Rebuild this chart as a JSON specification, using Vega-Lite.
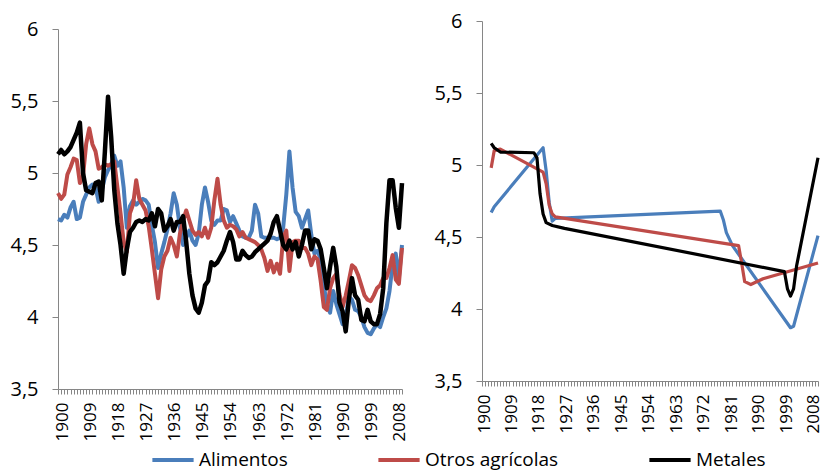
{
"$schema": "https://vega.github.io/schema/vega-lite/v6.json",
"padding": {"left": 9, "top": 11, "right": 2, "bottom": 2},
"config": {
  "view": {"stroke": null},
  "font": "Open Sans",
  "axis": {"domainColor": "#868686", "tickColor": "#868686", "labelColor": "#000000", "labelFont": "Open Sans", "grid": false}
},
"datasets": {
"left": [
{"year":1900,"series":"Alimentos","value":4.68},{"year":1901,"series":"Alimentos","value":4.67},{"year":1902,"series":"Alimentos","value":4.71},{"year":1903,"series":"Alimentos","value":4.69},{"year":1904,"series":"Alimentos","value":4.76},{"year":1905,"series":"Alimentos","value":4.80},{"year":1906,"series":"Alimentos","value":4.68},{"year":1907,"series":"Alimentos","value":4.69},{"year":1908,"series":"Alimentos","value":4.80},{"year":1909,"series":"Alimentos","value":4.85},
{"year":1910,"series":"Alimentos","value":4.90},{"year":1911,"series":"Alimentos","value":4.92},{"year":1912,"series":"Alimentos","value":4.90},{"year":1913,"series":"Alimentos","value":4.80},{"year":1914,"series":"Alimentos","value":4.88},{"year":1915,"series":"Alimentos","value":4.97},{"year":1916,"series":"Alimentos","value":5.02},{"year":1917,"series":"Alimentos","value":5.06},{"year":1918,"series":"Alimentos","value":5.12},{"year":1919,"series":"Alimentos","value":5.05},
{"year":1920,"series":"Alimentos","value":5.08},{"year":1921,"series":"Alimentos","value":4.90},{"year":1922,"series":"Alimentos","value":4.62},{"year":1923,"series":"Alimentos","value":4.77},{"year":1924,"series":"Alimentos","value":4.81},{"year":1925,"series":"Alimentos","value":4.78},{"year":1926,"series":"Alimentos","value":4.80},{"year":1927,"series":"Alimentos","value":4.82},{"year":1928,"series":"Alimentos","value":4.81},{"year":1929,"series":"Alimentos","value":4.78},
{"year":1930,"series":"Alimentos","value":4.64},{"year":1931,"series":"Alimentos","value":4.52},{"year":1932,"series":"Alimentos","value":4.34},{"year":1933,"series":"Alimentos","value":4.44},{"year":1934,"series":"Alimentos","value":4.52},{"year":1935,"series":"Alimentos","value":4.61},{"year":1936,"series":"Alimentos","value":4.72},{"year":1937,"series":"Alimentos","value":4.86},{"year":1938,"series":"Alimentos","value":4.78},{"year":1939,"series":"Alimentos","value":4.62},
{"year":1940,"series":"Alimentos","value":4.50},{"year":1941,"series":"Alimentos","value":4.55},{"year":1942,"series":"Alimentos","value":4.60},{"year":1943,"series":"Alimentos","value":4.53},{"year":1944,"series":"Alimentos","value":4.50},{"year":1945,"series":"Alimentos","value":4.58},{"year":1946,"series":"Alimentos","value":4.78},{"year":1947,"series":"Alimentos","value":4.90},{"year":1948,"series":"Alimentos","value":4.80},{"year":1949,"series":"Alimentos","value":4.67},
{"year":1950,"series":"Alimentos","value":4.64},{"year":1951,"series":"Alimentos","value":4.67},{"year":1952,"series":"Alimentos","value":4.67},{"year":1953,"series":"Alimentos","value":4.75},{"year":1954,"series":"Alimentos","value":4.74},{"year":1955,"series":"Alimentos","value":4.66},{"year":1956,"series":"Alimentos","value":4.70},{"year":1957,"series":"Alimentos","value":4.65},{"year":1958,"series":"Alimentos","value":4.60},{"year":1959,"series":"Alimentos","value":4.56},
{"year":1960,"series":"Alimentos","value":4.55},{"year":1961,"series":"Alimentos","value":4.55},{"year":1962,"series":"Alimentos","value":4.60},{"year":1963,"series":"Alimentos","value":4.78},{"year":1964,"series":"Alimentos","value":4.72},{"year":1965,"series":"Alimentos","value":4.56},{"year":1966,"series":"Alimentos","value":4.55},{"year":1967,"series":"Alimentos","value":4.55},{"year":1968,"series":"Alimentos","value":4.55},{"year":1969,"series":"Alimentos","value":4.55},
{"year":1970,"series":"Alimentos","value":4.54},{"year":1971,"series":"Alimentos","value":4.55},{"year":1972,"series":"Alimentos","value":4.62},{"year":1973,"series":"Alimentos","value":4.85},{"year":1974,"series":"Alimentos","value":5.15},{"year":1975,"series":"Alimentos","value":4.90},{"year":1976,"series":"Alimentos","value":4.73},{"year":1977,"series":"Alimentos","value":4.70},{"year":1978,"series":"Alimentos","value":4.62},{"year":1979,"series":"Alimentos","value":4.68},
{"year":1980,"series":"Alimentos","value":4.74},{"year":1981,"series":"Alimentos","value":4.57},{"year":1982,"series":"Alimentos","value":4.44},{"year":1983,"series":"Alimentos","value":4.46},{"year":1984,"series":"Alimentos","value":4.40},{"year":1985,"series":"Alimentos","value":4.22},{"year":1986,"series":"Alimentos","value":4.08},{"year":1987,"series":"Alimentos","value":4.03},{"year":1988,"series":"Alimentos","value":4.18},{"year":1989,"series":"Alimentos","value":4.09},
{"year":1990,"series":"Alimentos","value":4.02},{"year":1991,"series":"Alimentos","value":3.95},{"year":1992,"series":"Alimentos","value":3.99},{"year":1993,"series":"Alimentos","value":4.14},{"year":1994,"series":"Alimentos","value":4.12},{"year":1995,"series":"Alimentos","value":4.05},{"year":1996,"series":"Alimentos","value":4.04},{"year":1997,"series":"Alimentos","value":4.00},{"year":1998,"series":"Alimentos","value":3.93},{"year":1999,"series":"Alimentos","value":3.89},
{"year":2000,"series":"Alimentos","value":3.88},{"year":2001,"series":"Alimentos","value":3.92},{"year":2002,"series":"Alimentos","value":3.95},{"year":2003,"series":"Alimentos","value":3.93},{"year":2004,"series":"Alimentos","value":4.00},{"year":2005,"series":"Alimentos","value":4.06},{"year":2006,"series":"Alimentos","value":4.18},{"year":2007,"series":"Alimentos","value":4.37},{"year":2008,"series":"Alimentos","value":4.44},{"year":2009,"series":"Alimentos","value":4.27},{"year":2010,"series":"Alimentos","value":4.50},
{"year":1900,"series":"Otros agrícolas","value":4.86},{"year":1901,"series":"Otros agrícolas","value":4.82},{"year":1902,"series":"Otros agrícolas","value":4.85},{"year":1903,"series":"Otros agrícolas","value":4.99},{"year":1904,"series":"Otros agrícolas","value":5.04},{"year":1905,"series":"Otros agrícolas","value":5.10},{"year":1906,"series":"Otros agrícolas","value":5.09},{"year":1907,"series":"Otros agrícolas","value":4.93},{"year":1908,"series":"Otros agrícolas","value":4.98},{"year":1909,"series":"Otros agrícolas","value":5.20},
{"year":1910,"series":"Otros agrícolas","value":5.31},{"year":1911,"series":"Otros agrícolas","value":5.20},{"year":1912,"series":"Otros agrícolas","value":5.15},{"year":1913,"series":"Otros agrícolas","value":5.03},{"year":1914,"series":"Otros agrícolas","value":5.04},{"year":1915,"series":"Otros agrícolas","value":5.06},{"year":1916,"series":"Otros agrícolas","value":5.05},{"year":1917,"series":"Otros agrícolas","value":5.06},{"year":1918,"series":"Otros agrícolas","value":5.08},{"year":1919,"series":"Otros agrícolas","value":4.90},
{"year":1920,"series":"Otros agrícolas","value":4.72},{"year":1921,"series":"Otros agrícolas","value":4.52},{"year":1922,"series":"Otros agrícolas","value":4.45},{"year":1923,"series":"Otros agrícolas","value":4.72},{"year":1924,"series":"Otros agrícolas","value":4.78},{"year":1925,"series":"Otros agrícolas","value":4.95},{"year":1926,"series":"Otros agrícolas","value":4.82},{"year":1927,"series":"Otros agrícolas","value":4.78},{"year":1928,"series":"Otros agrícolas","value":4.74},{"year":1929,"series":"Otros agrícolas","value":4.63},
{"year":1930,"series":"Otros agrícolas","value":4.47},{"year":1931,"series":"Otros agrícolas","value":4.30},{"year":1932,"series":"Otros agrícolas","value":4.13},{"year":1933,"series":"Otros agrícolas","value":4.33},{"year":1934,"series":"Otros agrícolas","value":4.42},{"year":1935,"series":"Otros agrícolas","value":4.46},{"year":1936,"series":"Otros agrícolas","value":4.55},{"year":1937,"series":"Otros agrícolas","value":4.50},{"year":1938,"series":"Otros agrícolas","value":4.42},{"year":1939,"series":"Otros agrícolas","value":4.58},
{"year":1940,"series":"Otros agrícolas","value":4.67},{"year":1941,"series":"Otros agrícolas","value":4.74},{"year":1942,"series":"Otros agrícolas","value":4.67},{"year":1943,"series":"Otros agrícolas","value":4.60},{"year":1944,"series":"Otros agrícolas","value":4.57},{"year":1945,"series":"Otros agrícolas","value":4.59},{"year":1946,"series":"Otros agrícolas","value":4.56},{"year":1947,"series":"Otros agrícolas","value":4.62},{"year":1948,"series":"Otros agrícolas","value":4.55},{"year":1949,"series":"Otros agrícolas","value":4.62},
{"year":1950,"series":"Otros agrícolas","value":4.81},{"year":1951,"series":"Otros agrícolas","value":4.96},{"year":1952,"series":"Otros agrícolas","value":4.78},{"year":1953,"series":"Otros agrícolas","value":4.67},{"year":1954,"series":"Otros agrícolas","value":4.62},{"year":1955,"series":"Otros agrícolas","value":4.64},{"year":1956,"series":"Otros agrícolas","value":4.63},{"year":1957,"series":"Otros agrícolas","value":4.61},{"year":1958,"series":"Otros agrícolas","value":4.56},{"year":1959,"series":"Otros agrícolas","value":4.59},
{"year":1960,"series":"Otros agrícolas","value":4.55},{"year":1961,"series":"Otros agrícolas","value":4.54},{"year":1962,"series":"Otros agrícolas","value":4.53},{"year":1963,"series":"Otros agrícolas","value":4.52},{"year":1964,"series":"Otros agrícolas","value":4.50},{"year":1965,"series":"Otros agrícolas","value":4.47},{"year":1966,"series":"Otros agrícolas","value":4.41},{"year":1967,"series":"Otros agrícolas","value":4.32},{"year":1968,"series":"Otros agrícolas","value":4.39},{"year":1969,"series":"Otros agrícolas","value":4.31},
{"year":1970,"series":"Otros agrícolas","value":4.37},{"year":1971,"series":"Otros agrícolas","value":4.30},{"year":1972,"series":"Otros agrícolas","value":4.55},{"year":1973,"series":"Otros agrícolas","value":4.60},{"year":1974,"series":"Otros agrícolas","value":4.32},{"year":1975,"series":"Otros agrícolas","value":4.52},{"year":1976,"series":"Otros agrícolas","value":4.53},{"year":1977,"series":"Otros agrícolas","value":4.53},{"year":1978,"series":"Otros agrícolas","value":4.48},{"year":1979,"series":"Otros agrícolas","value":4.48},
{"year":1980,"series":"Otros agrícolas","value":4.44},{"year":1981,"series":"Otros agrícolas","value":4.36},{"year":1982,"series":"Otros agrícolas","value":4.42},{"year":1983,"series":"Otros agrícolas","value":4.40},{"year":1984,"series":"Otros agrícolas","value":4.25},{"year":1985,"series":"Otros agrícolas","value":4.07},{"year":1986,"series":"Otros agrícolas","value":4.05},{"year":1987,"series":"Otros agrícolas","value":4.20},{"year":1988,"series":"Otros agrícolas","value":4.27},{"year":1989,"series":"Otros agrícolas","value":4.30},
{"year":1990,"series":"Otros agrícolas","value":4.16},{"year":1991,"series":"Otros agrícolas","value":4.07},{"year":1992,"series":"Otros agrícolas","value":4.15},{"year":1993,"series":"Otros agrícolas","value":4.25},{"year":1994,"series":"Otros agrícolas","value":4.36},{"year":1995,"series":"Otros agrícolas","value":4.34},{"year":1996,"series":"Otros agrícolas","value":4.29},{"year":1997,"series":"Otros agrícolas","value":4.22},{"year":1998,"series":"Otros agrícolas","value":4.15},{"year":1999,"series":"Otros agrícolas","value":4.12},
{"year":2000,"series":"Otros agrícolas","value":4.11},{"year":2001,"series":"Otros agrícolas","value":4.15},{"year":2002,"series":"Otros agrícolas","value":4.20},{"year":2003,"series":"Otros agrícolas","value":4.22},{"year":2004,"series":"Otros agrícolas","value":4.27},{"year":2005,"series":"Otros agrícolas","value":4.27},{"year":2006,"series":"Otros agrícolas","value":4.34},{"year":2007,"series":"Otros agrícolas","value":4.43},{"year":2008,"series":"Otros agrícolas","value":4.26},{"year":2009,"series":"Otros agrícolas","value":4.23},{"year":2010,"series":"Otros agrícolas","value":4.48},
{"year":1900,"series":"Metales","value":5.13},{"year":1901,"series":"Metales","value":5.16},{"year":1902,"series":"Metales","value":5.13},{"year":1903,"series":"Metales","value":5.15},{"year":1904,"series":"Metales","value":5.18},{"year":1905,"series":"Metales","value":5.23},{"year":1906,"series":"Metales","value":5.28},{"year":1907,"series":"Metales","value":5.35},{"year":1908,"series":"Metales","value":5.00},{"year":1909,"series":"Metales","value":4.88},
{"year":1910,"series":"Metales","value":4.87},{"year":1911,"series":"Metales","value":4.86},{"year":1912,"series":"Metales","value":4.93},{"year":1913,"series":"Metales","value":4.94},{"year":1914,"series":"Metales","value":4.81},{"year":1915,"series":"Metales","value":5.15},{"year":1916,"series":"Metales","value":5.53},{"year":1917,"series":"Metales","value":5.25},{"year":1918,"series":"Metales","value":4.88},{"year":1919,"series":"Metales","value":4.65},
{"year":1920,"series":"Metales","value":4.50},{"year":1921,"series":"Metales","value":4.30},{"year":1922,"series":"Metales","value":4.47},{"year":1923,"series":"Metales","value":4.59},{"year":1924,"series":"Metales","value":4.62},{"year":1925,"series":"Metales","value":4.66},{"year":1926,"series":"Metales","value":4.67},{"year":1927,"series":"Metales","value":4.66},{"year":1928,"series":"Metales","value":4.68},{"year":1929,"series":"Metales","value":4.67},
{"year":1930,"series":"Metales","value":4.72},{"year":1931,"series":"Metales","value":4.63},{"year":1932,"series":"Metales","value":4.75},{"year":1933,"series":"Metales","value":4.72},{"year":1934,"series":"Metales","value":4.60},{"year":1935,"series":"Metales","value":4.63},{"year":1936,"series":"Metales","value":4.68},{"year":1937,"series":"Metales","value":4.60},{"year":1938,"series":"Metales","value":4.66},{"year":1939,"series":"Metales","value":4.66},
{"year":1940,"series":"Metales","value":4.70},{"year":1941,"series":"Metales","value":4.52},{"year":1942,"series":"Metales","value":4.30},{"year":1943,"series":"Metales","value":4.15},{"year":1944,"series":"Metales","value":4.06},{"year":1945,"series":"Metales","value":4.03},{"year":1946,"series":"Metales","value":4.10},{"year":1947,"series":"Metales","value":4.22},{"year":1948,"series":"Metales","value":4.25},{"year":1949,"series":"Metales","value":4.38},
{"year":1950,"series":"Metales","value":4.36},{"year":1951,"series":"Metales","value":4.38},{"year":1952,"series":"Metales","value":4.42},{"year":1953,"series":"Metales","value":4.46},{"year":1954,"series":"Metales","value":4.53},{"year":1955,"series":"Metales","value":4.59},{"year":1956,"series":"Metales","value":4.52},{"year":1957,"series":"Metales","value":4.40},{"year":1958,"series":"Metales","value":4.40},{"year":1959,"series":"Metales","value":4.46},
{"year":1960,"series":"Metales","value":4.43},{"year":1961,"series":"Metales","value":4.41},{"year":1962,"series":"Metales","value":4.42},{"year":1963,"series":"Metales","value":4.45},{"year":1964,"series":"Metales","value":4.47},{"year":1965,"series":"Metales","value":4.49},{"year":1966,"series":"Metales","value":4.51},{"year":1967,"series":"Metales","value":4.53},{"year":1968,"series":"Metales","value":4.58},{"year":1969,"series":"Metales","value":4.66},
{"year":1970,"series":"Metales","value":4.70},{"year":1971,"series":"Metales","value":4.60},{"year":1972,"series":"Metales","value":4.50},{"year":1973,"series":"Metales","value":4.47},{"year":1974,"series":"Metales","value":4.53},{"year":1975,"series":"Metales","value":4.47},{"year":1976,"series":"Metales","value":4.52},{"year":1977,"series":"Metales","value":4.42},{"year":1978,"series":"Metales","value":4.50},{"year":1979,"series":"Metales","value":4.60},
{"year":1980,"series":"Metales","value":4.60},{"year":1981,"series":"Metales","value":4.47},{"year":1982,"series":"Metales","value":4.54},{"year":1983,"series":"Metales","value":4.53},{"year":1984,"series":"Metales","value":4.47},{"year":1985,"series":"Metales","value":4.34},{"year":1986,"series":"Metales","value":4.20},{"year":1987,"series":"Metales","value":4.35},{"year":1988,"series":"Metales","value":4.48},{"year":1989,"series":"Metales","value":4.35},
{"year":1990,"series":"Metales","value":4.10},{"year":1991,"series":"Metales","value":4.04},{"year":1992,"series":"Metales","value":3.90},{"year":1993,"series":"Metales","value":4.12},{"year":1994,"series":"Metales","value":4.27},{"year":1995,"series":"Metales","value":4.15},{"year":1996,"series":"Metales","value":4.12},{"year":1997,"series":"Metales","value":3.98},{"year":1998,"series":"Metales","value":3.97},{"year":1999,"series":"Metales","value":4.05},
{"year":2000,"series":"Metales","value":3.97},{"year":2001,"series":"Metales","value":3.95},{"year":2002,"series":"Metales","value":3.95},{"year":2003,"series":"Metales","value":4.02},{"year":2004,"series":"Metales","value":4.20},{"year":2005,"series":"Metales","value":4.65},{"year":2006,"series":"Metales","value":4.95},{"year":2007,"series":"Metales","value":4.95},{"year":2008,"series":"Metales","value":4.76},{"year":2009,"series":"Metales","value":4.62},{"year":2010,"series":"Metales","value":4.93}
],
"right": [
{"year":1903,"series":"Alimentos","value":4.67},{"year":1904,"series":"Alimentos","value":4.71},{"year":1920,"series":"Alimentos","value":5.12},{"year":1921,"series":"Alimentos","value":4.96},{"year":1922,"series":"Alimentos","value":4.74},{"year":1923,"series":"Alimentos","value":4.61},{"year":1924,"series":"Alimentos","value":4.63},{"year":1978,"series":"Alimentos","value":4.68},{"year":1979,"series":"Alimentos","value":4.62},{"year":1980,"series":"Alimentos","value":4.53},{"year":1982,"series":"Alimentos","value":4.44},{"year":2001,"series":"Alimentos","value":3.87},{"year":2002,"series":"Alimentos","value":3.88},{"year":2010,"series":"Alimentos","value":4.51},
{"year":1903,"series":"Otros agrícolas","value":4.98},{"year":1904,"series":"Otros agrícolas","value":5.10},{"year":1906,"series":"Otros agrícolas","value":5.11},{"year":1920,"series":"Otros agrícolas","value":4.95},{"year":1921,"series":"Otros agrícolas","value":4.87},{"year":1922,"series":"Otros agrícolas","value":4.72},{"year":1923,"series":"Otros agrícolas","value":4.66},{"year":1924,"series":"Otros agrícolas","value":4.64},{"year":1984,"series":"Otros agrícolas","value":4.44},{"year":1985,"series":"Otros agrícolas","value":4.32},{"year":1986,"series":"Otros agrícolas","value":4.19},{"year":1988,"series":"Otros agrícolas","value":4.17},{"year":1992,"series":"Otros agrícolas","value":4.21},{"year":2010,"series":"Otros agrícolas","value":4.32},
{"year":1903,"series":"Metales","value":5.15},{"year":1904,"series":"Metales","value":5.12},{"year":1906,"series":"Metales","value":5.09},{"year":1917,"series":"Metales","value":5.085},{"year":1918,"series":"Metales","value":5.05},{"year":1919,"series":"Metales","value":4.80},{"year":1920,"series":"Metales","value":4.66},{"year":1921,"series":"Metales","value":4.60},{"year":1923,"series":"Metales","value":4.58},{"year":1927,"series":"Metales","value":4.56},{"year":1999,"series":"Metales","value":4.26},{"year":2000,"series":"Metales","value":4.14},{"year":2001,"series":"Metales","value":4.09},{"year":2002,"series":"Metales","value":4.14},{"year":2003,"series":"Metales","value":4.30},{"year":2010,"series":"Metales","value":5.05}
],
"empty": []
},
"spacing": 19,
"hconcat": [
 {"spacing": 7, "bounds": "flush", "vconcat": [
 {
  "width": 344, "height": 1,
  "data": {"name": "empty"},
  "mark": {"type": "point", "opacity": 0},
  "encoding": {}
 },
 {
  "width": 344, "height": 360,
  "data": {"name": "left"},
  "encoding": {
   "x": {"field": "year", "type": "quantitative", "scale": {"domain": [1900, 2010], "nice": false, "zero": false},
     "axis": {"title": null, "tickSize": 5, "labelAngle": 270, "labelPadding": 8, "labelFontSize": 17, "labelOverlap": false, "labelBound": false, "labelFlush": false, "labelOffset": 4,
       "values": [1900,1901,1902,1903,1904,1905,1906,1907,1908,1909,1910,1911,1912,1913,1914,1915,1916,1917,1918,1919,1920,1921,1922,1923,1924,1925,1926,1927,1928,1929,1930,1931,1932,1933,1934,1935,1936,1937,1938,1939,1940,1941,1942,1943,1944,1945,1946,1947,1948,1949,1950,1951,1952,1953,1954,1955,1956,1957,1958,1959,1960,1961,1962,1963,1964,1965,1966,1967,1968,1969,1970,1971,1972,1973,1974,1975,1976,1977,1978,1979,1980,1981,1982,1983,1984,1985,1986,1987,1988,1989,1990,1991,1992,1993,1994,1995,1996,1997,1998,1999,2000,2001,2002,2003,2004,2005,2006,2007,2008,2009,2010],
       "labelExpr": "(datum.value - 1900) % 9 === 0 ? '' + datum.value : ''"}},
   "y": {"field": "value", "type": "quantitative", "scale": {"domain": [3.5, 6], "nice": false, "zero": false},
     "axis": {"title": null, "tickSize": 6, "labelPadding": 14, "labelFontSize": 20, "values": [3.5, 4, 4.5, 5, 5.5, 6], "labelExpr": "replace('' + datum.value, '.', ',')"}},
   "color": {"field": "series", "type": "nominal",
     "scale": {"domain": ["Alimentos", "Otros agrícolas", "Metales"], "range": ["#4A7EBB", "#BE4B48", "#000000"]},
     "legend": {"title": null, "orient": "none", "legendX": 92, "legendY": 416, "direction": "horizontal", "symbolType": "stroke", "symbolSize": 1700, "symbolStrokeWidth": 4, "labelFontSize": 19, "labelFont": "Open Sans", "labelColor": "#000000", "labelLimit": 300, "columnPadding": 82, "labelOffset": 3, "padding": 0}}
  },
  "layer": [
   {"transform": [{"filter": "datum.series === 'Alimentos'"}], "mark": {"type": "line", "strokeWidth": 4, "strokeJoin": "round"}},
   {"transform": [{"filter": "datum.series === 'Otros agrícolas'"}], "mark": {"type": "line", "strokeWidth": 4, "strokeJoin": "round"}},
   {"transform": [{"filter": "datum.series === 'Metales'"}], "mark": {"type": "line", "strokeWidth": 4.5, "strokeJoin": "round"}}
  ]
 }]},
 {
  "width": 336, "height": 360,
  "data": {"name": "right"},
  "encoding": {
   "x": {"field": "year", "type": "quantitative", "scale": {"domain": [1900, 2010], "nice": false, "zero": false},
     "axis": {"title": null, "tickSize": 5, "labelAngle": 270, "labelPadding": 8, "labelFontSize": 17, "labelOverlap": false, "labelBound": false, "labelFlush": false, "labelOffset": 2,
       "values": [1900,1901,1902,1903,1904,1905,1906,1907,1908,1909,1910,1911,1912,1913,1914,1915,1916,1917,1918,1919,1920,1921,1922,1923,1924,1925,1926,1927,1928,1929,1930,1931,1932,1933,1934,1935,1936,1937,1938,1939,1940,1941,1942,1943,1944,1945,1946,1947,1948,1949,1950,1951,1952,1953,1954,1955,1956,1957,1958,1959,1960,1961,1962,1963,1964,1965,1966,1967,1968,1969,1970,1971,1972,1973,1974,1975,1976,1977,1978,1979,1980,1981,1982,1983,1984,1985,1986,1987,1988,1989,1990,1991,1992,1993,1994,1995,1996,1997,1998,1999,2000,2001,2002,2003,2004,2005,2006,2007,2008,2009,2010],
       "labelExpr": "(datum.value - 1900) % 9 === 0 ? '' + datum.value : ''"}},
   "y": {"field": "value", "type": "quantitative", "scale": {"domain": [3.5, 6], "nice": false, "zero": false},
     "axis": {"title": null, "tickSize": 6, "labelPadding": 14, "labelFontSize": 20, "values": [3.5, 4, 4.5, 5, 5.5, 6], "labelExpr": "replace('' + datum.value, '.', ',')"}},
   "color": {"field": "series", "type": "nominal",
     "scale": {"domain": ["Alimentos", "Otros agrícolas", "Metales"], "range": ["#4A7EBB", "#BE4B48", "#000000"]},
     "legend": {"title": null, "orient": "none", "legendX": 92, "legendY": 416, "direction": "horizontal", "symbolType": "stroke", "symbolSize": 1700, "symbolStrokeWidth": 4, "labelFontSize": 19, "labelFont": "Open Sans", "labelColor": "#000000", "labelLimit": 300, "columnPadding": 82, "labelOffset": 3, "padding": 0}}
  },
  "layer": [
   {"transform": [{"filter": "datum.series === 'Alimentos'"}], "mark": {"type": "line", "strokeWidth": 3.2, "strokeJoin": "round"}},
   {"transform": [{"filter": "datum.series === 'Otros agrícolas'"}], "mark": {"type": "line", "strokeWidth": 3.2, "strokeJoin": "round"}},
   {"transform": [{"filter": "datum.series === 'Metales'"}], "mark": {"type": "line", "strokeWidth": 3.2, "strokeJoin": "round"}}
  ]
 }
]
}
